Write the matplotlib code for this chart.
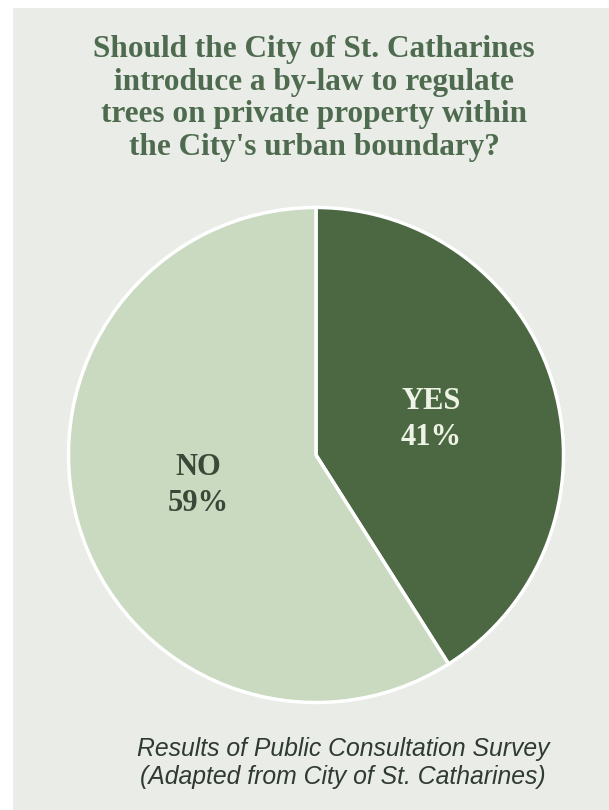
import matplotlib
matplotlib.use("Agg")
import matplotlib.pyplot as plt

labels = ["YES", "NO"]
values = [41, 59]
colors = ["#4b6843", "#c9dac0"]
label_colors = ["#eef3e6", "#3a4838"]
title_lines = "Should the City of St. Catharines\nintroduce a by-law to regulate\ntrees on private property within\nthe City's urban boundary?"
caption = "Results of Public Consultation Survey\n(Adapted from City of St. Catharines)"

W, H = 609, 810
fig = plt.figure(figsize=(W/100, H/100), dpi=100)
fig.patch.set_facecolor("white")
bg = fig.add_axes([13/W, 0, 1 - 13/W, 1 - 8/H], zorder=-10)
bg.set_facecolor("#e9ece7")
bg.set_xticks([]); bg.set_yticks([])
for s in bg.spines.values():
    s.set_visible(False)

cx, cy, r = 316, 455, 250
ax = fig.add_axes([(cx - r)/W, (H - cy - r)/H, 2*r/W, 2*r/H], zorder=1)
ax.set_facecolor("none")
wedges, _ = ax.pie(values, colors=colors, startangle=90, counterclock=False,
                   wedgeprops=dict(edgecolor="white", linewidth=2.5), radius=1)
ax.set_xlim(-1.01, 1.01)
ax.set_ylim(-1.01, 1.01)
ax.set_aspect("equal")
ax.axis("off")

# slice labels
pos = [(0.464, 0.144), (-0.476, -0.124)]
for (x, y), lab, v, c in zip(pos, labels, values, label_colors):
    ax.text(x, y, f"{lab}\n{v}%", ha="center", va="center", color=c,
            fontsize=22, fontweight="bold", family="Liberation Serif", linespacing=1.3)

fig.text(314/W, 1 - 98.5/H, title_lines, ha="center", va="center", color="#4f6b4f",
         fontsize=22.5, fontweight="bold", family="Liberation Serif", linespacing=1.17, zorder=5)
fig.text(343/W, 1 - 763/H, caption, ha="center", va="center", color="#2f3a30",
         fontsize=17.8, style="italic", family="Liberation Sans", linespacing=1.22, zorder=5)

fig.savefig("out.png", dpi=100)
